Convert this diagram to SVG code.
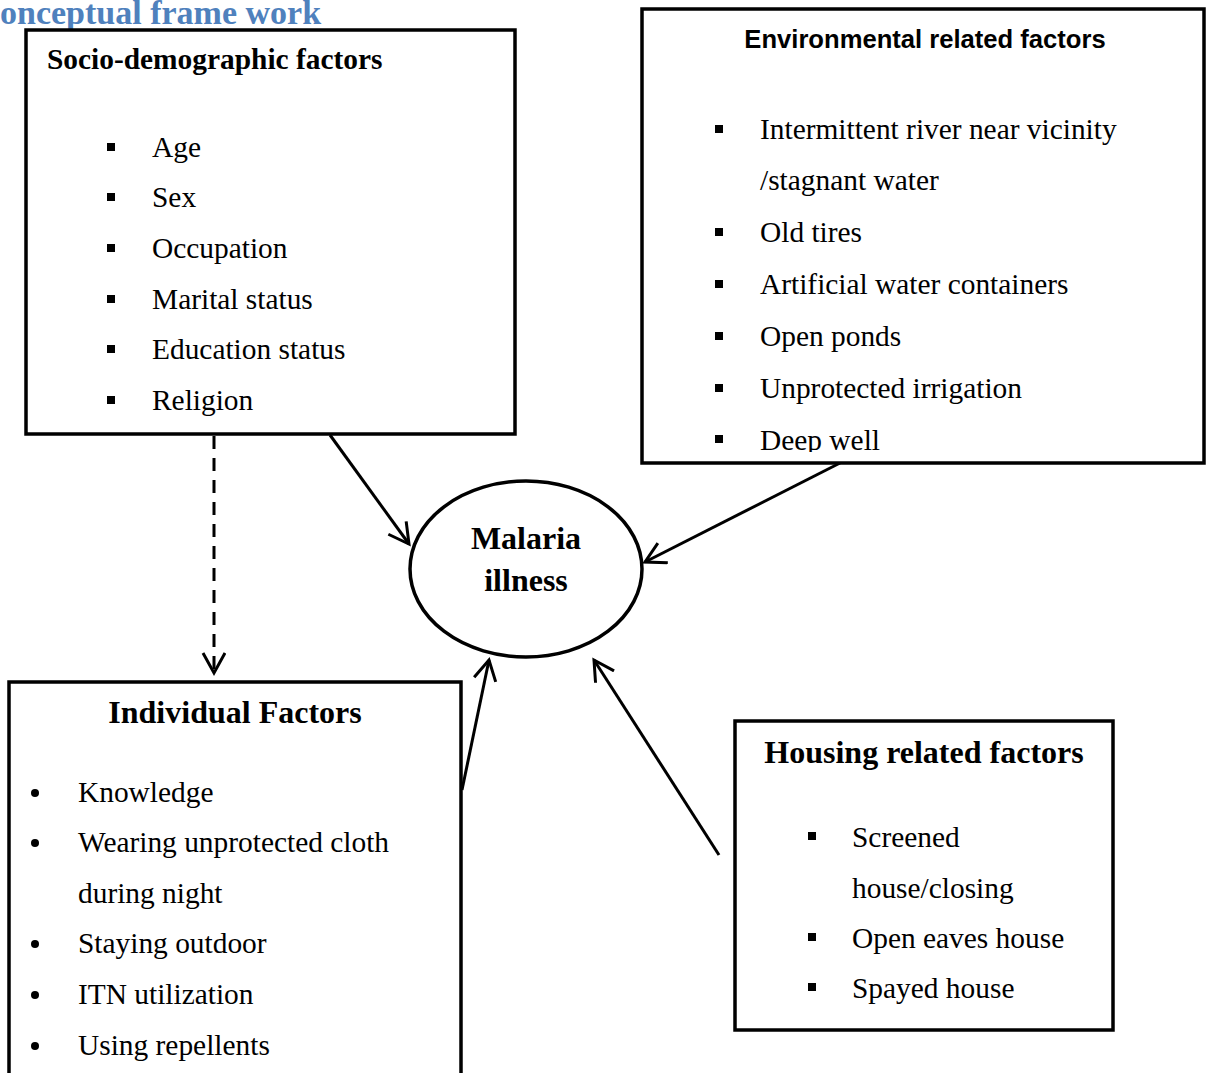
<svg xmlns="http://www.w3.org/2000/svg" width="1206" height="1073" viewBox="0 0 1206 1073">
<defs>
<style>
.box{fill:#fff;stroke:#000;stroke-width:3.5}
.t{font-family:"Liberation Serif","Times New Roman",serif;font-size:29.4px;fill:#000}
.h{font-family:"Liberation Serif","Times New Roman",serif;font-size:32px;font-weight:bold;fill:#000}
.hs{font-family:"Liberation Sans",Arial,sans-serif;font-size:25.6px;font-weight:bold;fill:#000}
.conn{stroke:#000;stroke-width:3;fill:none}
</style>
<marker id="arr" markerUnits="userSpaceOnUse" markerWidth="26" markerHeight="26" refX="21" refY="12" orient="auto">
<path d="M1,1 L21,12 L1,23" fill="none" stroke="#000" stroke-width="3"/>
</marker>
<clipPath id="envclip"><rect x="642" y="9" width="563" height="443"/></clipPath>
</defs>
<rect width="1206" height="1073" fill="#fff"/>
<text x="0" y="24" font-family="'Liberation Serif','Times New Roman',serif" font-size="34" font-weight="bold" fill="#4F81BD">onceptual frame work</text>

<g id="connectors">
<line class="conn" x1="330" y1="435" x2="409" y2="544" marker-end="url(#arr)"/>
<line class="conn" x1="840" y1="463" x2="645" y2="562" marker-end="url(#arr)"/>
<line class="conn" x1="214" y1="436" x2="214" y2="673" stroke-dasharray="13,9" marker-end="url(#arr)"/>
<line class="conn" x1="462" y1="790" x2="489" y2="660" marker-end="url(#arr)"/>
<line class="conn" x1="719" y1="855" x2="594" y2="660" marker-end="url(#arr)"/>
</g>

<g id="socio">
<rect class="box" x="26" y="30" width="489" height="404"/>
<text class="h" x="47" y="69" style="font-size:29.4px">Socio-demographic factors</text>
<rect x="107" y="143" width="8" height="8"/><text class="t" x="152" y="157">Age</text>
<rect x="107" y="193" width="8" height="8"/><text class="t" x="152" y="207">Sex</text>
<rect x="107" y="244" width="8" height="8"/><text class="t" x="152" y="258">Occupation</text>
<rect x="107" y="295" width="8" height="8"/><text class="t" x="152" y="309">Marital status</text>
<rect x="107" y="345" width="8" height="8"/><text class="t" x="152" y="359">Education status</text>
<rect x="107" y="396" width="8" height="8"/><text class="t" x="152" y="410">Religion</text>
</g>

<g id="environmental">
<rect class="box" x="642" y="9" width="562" height="454"/>
<text class="hs" x="925" y="48" text-anchor="middle">Environmental related factors</text>
<g clip-path="url(#envclip)">
<rect x="715" y="125" width="8" height="8"/><text class="t" x="760" y="139">Intermittent river near vicinity</text>
<text class="t" x="760" y="190">/stagnant water</text>
<rect x="715" y="228" width="8" height="8"/><text class="t" x="760" y="242">Old tires</text>
<rect x="715" y="280" width="8" height="8"/><text class="t" x="760" y="294">Artificial water containers</text>
<rect x="715" y="332" width="8" height="8"/><text class="t" x="760" y="346">Open ponds</text>
<rect x="715" y="384" width="8" height="8"/><text class="t" x="760" y="398">Unprotected irrigation</text>
<rect x="715" y="435" width="8" height="8"/><text class="t" x="760" y="450">Deep well</text>
</g>
</g>

<g id="malaria">
<ellipse cx="526" cy="569" rx="116" ry="88" fill="#fff" stroke="#000" stroke-width="3.5"/>
<text class="h" x="526" y="549" text-anchor="middle">Malaria</text>
<text class="h" x="526" y="591" text-anchor="middle">illness</text>
</g>

<g id="individual">
<rect class="box" x="9" y="682" width="452" height="420"/>
<text class="h" x="235" y="723" text-anchor="middle">Individual Factors</text>
<circle cx="35" cy="793" r="4"/><text class="t" x="78" y="802">Knowledge</text>
<circle cx="35" cy="843" r="4"/><text class="t" x="78" y="852">Wearing unprotected cloth</text>
<text class="t" x="78" y="903">during night</text>
<circle cx="35" cy="944" r="4"/><text class="t" x="78" y="953">Staying outdoor</text>
<circle cx="35" cy="995" r="4"/><text class="t" x="78" y="1004">ITN utilization</text>
<circle cx="35" cy="1046" r="4"/><text class="t" x="78" y="1055">Using repellents</text>
</g>

<g id="housing">
<rect class="box" x="735" y="721" width="378" height="309"/>
<text class="h" x="924" y="763" text-anchor="middle">Housing related factors</text>
<rect x="808" y="832" width="8" height="8"/><text class="t" x="852" y="847">Screened</text>
<text class="t" x="852" y="898">house/closing</text>
<rect x="808" y="933" width="8" height="8"/><text class="t" x="852" y="948">Open eaves house</text>
<rect x="808" y="983" width="8" height="8"/><text class="t" x="852" y="998">Spayed house</text>
</g>
</svg>
